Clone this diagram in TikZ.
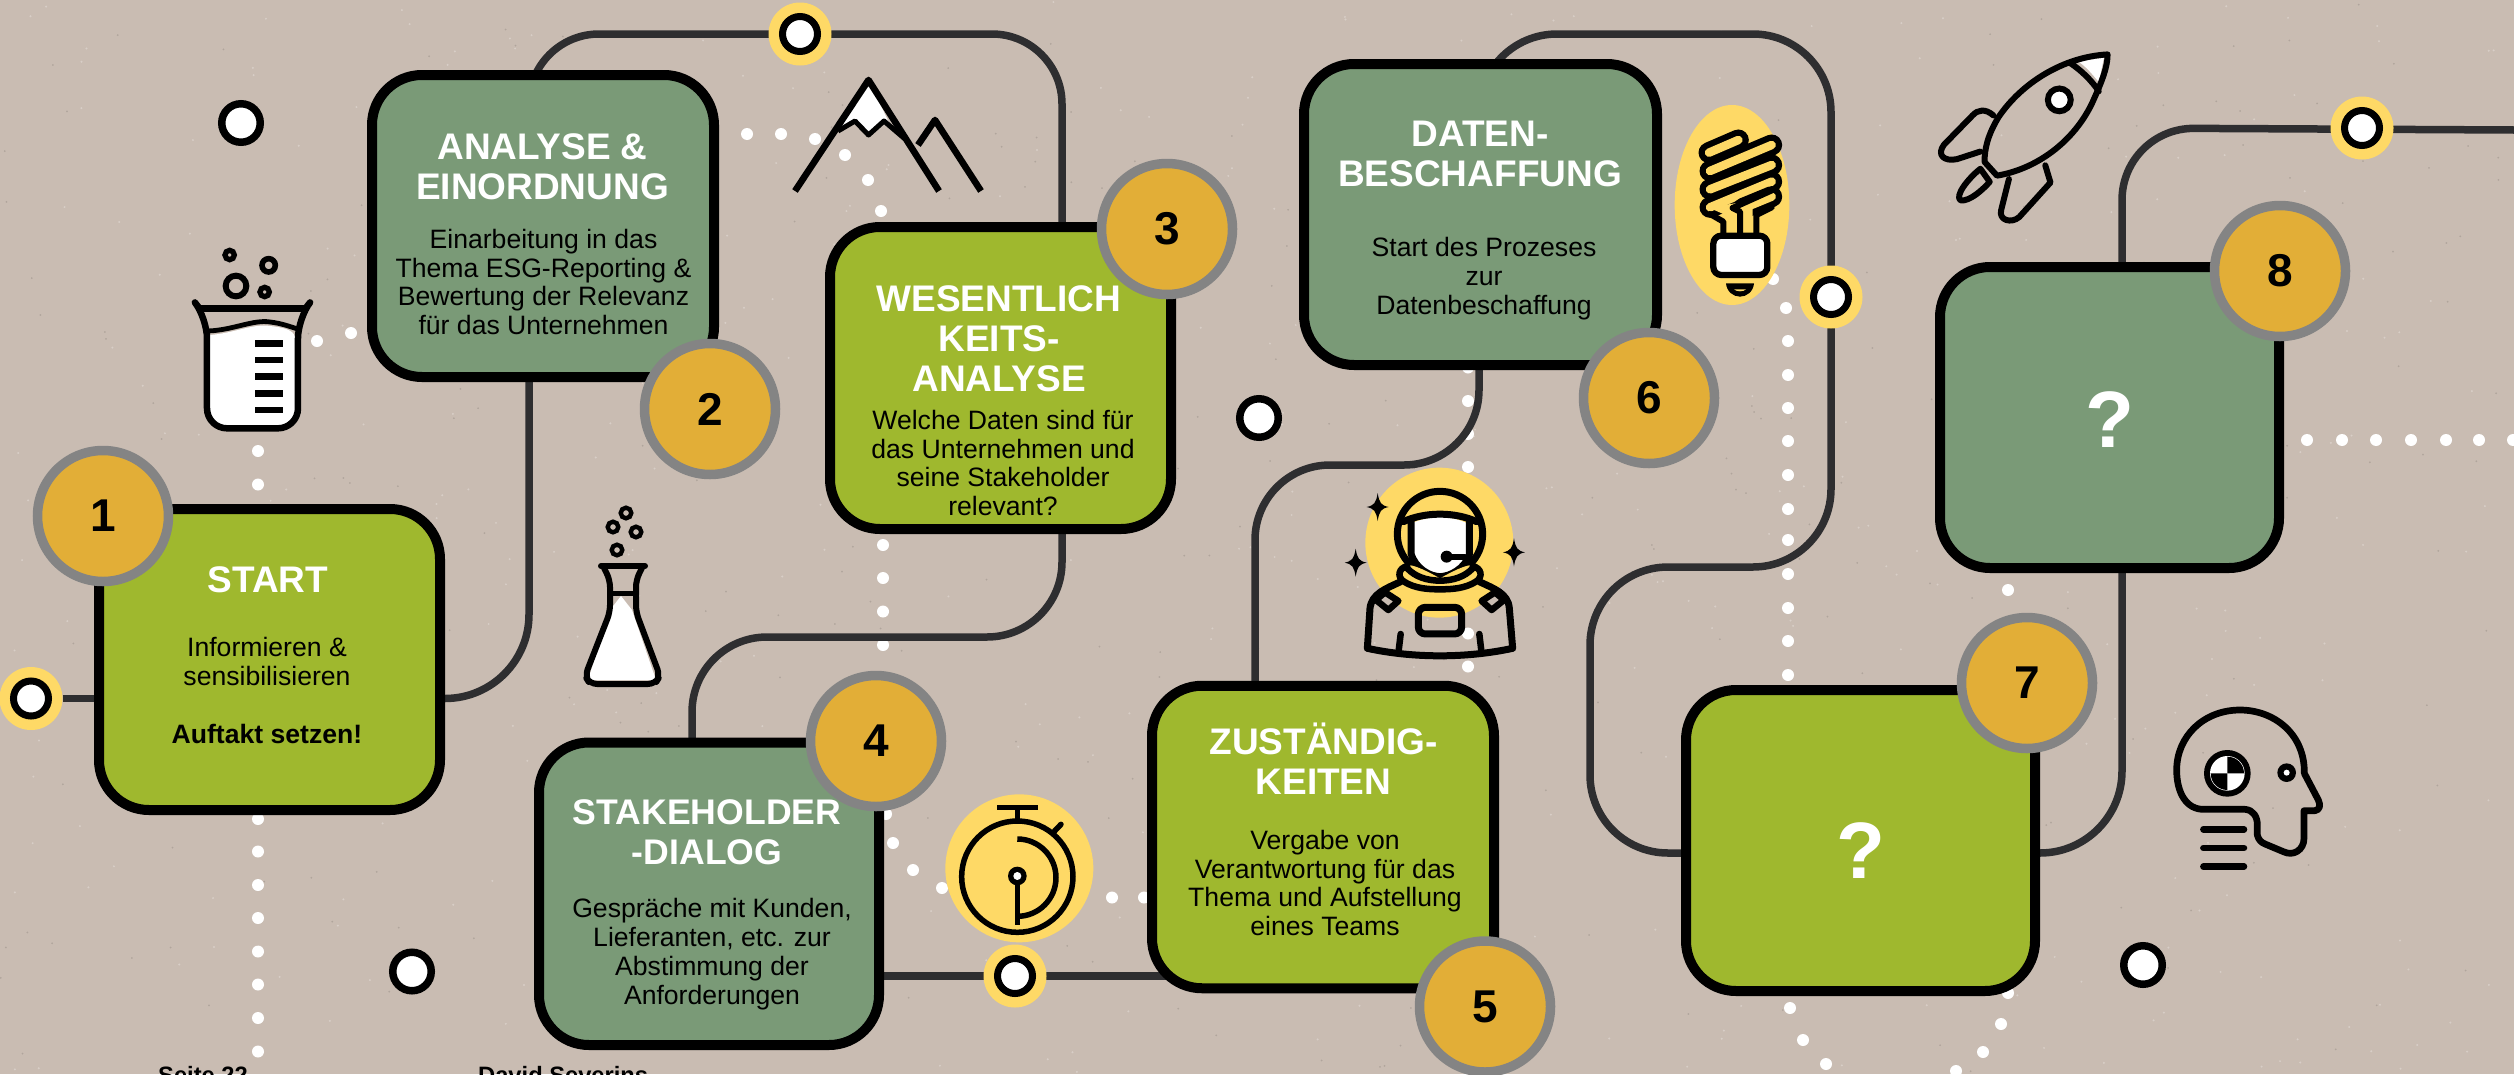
\documentclass[tikz,border=0pt]{standalone}
\usepackage{fontspec}
\setmainfont{Liberation Sans}
\usetikzlibrary{calc}
\definecolor{paper}{RGB}{201,188,178}
\definecolor{lime}{RGB}{159,184,46}
\definecolor{sage}{RGB}{122,154,119}
\definecolor{badgefill}{RGB}{226,174,55}
\definecolor{badgering}{RGB}{132,132,132}
\definecolor{sun}{RGB}{254,217,102}
\definecolor{wire}{RGB}{46,46,48}
\pgfdeclarelayer{paperlayer}
\pgfdeclarelayer{wirelayer}
\pgfsetlayers{paperlayer,wirelayer,main}
\tikzset{
  card/.style={rectangle,draw=black,line width=10pt,rounded corners=50pt,outer sep=0pt,inner sep=0pt},
  limecard/.style={card,fill=lime},
  sagecard/.style={card,fill=sage},
  badge/.style={circle,draw=badgering,fill=badgefill,line width=9.5pt,minimum size=131pt,inner sep=0pt,outer sep=0pt,font=\fontsize{46}{46}\selectfont\bfseries},
  stop/.style={circle,draw=black,fill=white,line width=7.5pt,minimum size=38.5pt,inner sep=0pt,outer sep=0pt},
  halo/.style={circle,fill=sun,minimum size=63pt,inner sep=0pt,outer sep=0pt},
  haloring/.style={circle,draw=black,fill=white,line width=7pt,minimum size=35pt,inner sep=0pt,outer sep=0pt},
  conn/.style={draw=wire,line width=7.5pt},
  whitedot/.style={fill=white},
  headtext/.style={align=center,text=white,font=\fontsize{37}{40}\selectfont\bfseries,inner sep=0pt},
  bodytext/.style={align=center,text=black,font=\fontsize{26.6}{28.9}\selectfont,inner sep=0pt},
  asktext/.style={text=white,font=\fontsize{80}{80}\selectfont\bfseries,inner sep=0pt},
  foot/.style={anchor=base west,inner sep=0pt,font=\fontsize{23.7}{26}\selectfont\bfseries},
  ink/.style={draw=black,line cap=round,line join=round},
}
\begin{document}
\begin{tikzpicture}[x=1pt,y=-1pt]
\useasboundingbox (0,0) rectangle (2514,1074);
\begin{pgfonlayer}{paperlayer}
\fill[paper] (0,0) rectangle (2514,1074);
\pgfmathsetseed{11}
\foreach \i in {1,...,500}{\fill[white,opacity=.28] ({rnd*2514},{rnd*1074}) circle (1.1);}
\foreach \i in {1,...,350}{\fill[black,opacity=.12] ({rnd*2514},{rnd*1074}) circle (1.0);}
\end{pgfonlayer}

% cards
\node[limecard,minimum width=341pt,minimum height=301pt] (b1) at (269.5,659.5) {};
\node[sagecard,minimum width=342pt,minimum height=302pt] (b2) at (543,226) {};
\node[limecard,minimum width=341pt,minimum height=302pt] (b3) at (1000.5,378) {};
\node[sagecard,minimum width=340pt,minimum height=302.5pt] (b4) at (709,893.75) {};
\node[limecard,minimum width=342pt,minimum height=302.5pt] (b5) at (1323,837) {};
\node[sagecard,minimum width=353pt,minimum height=301pt] (b6) at (1480.5,214.5) {};
\node[limecard,minimum width=349pt,minimum height=301pt] (b7) at (1860.5,840.5) {};
\node[sagecard,minimum width=339pt,minimum height=301pt] (b8) at (2109.5,417.5) {};

% route stops
\node[halo] (n0) at (31,698.5) {};   \node[haloring] (n0r) at (n0) {};
\node[halo] (n1) at (800,34) {};   \node[haloring] (n1r) at (n1) {};
\node[halo] (n2) at (1015,976) {}; \node[haloring] (n2r) at (n2) {};
\node[halo] (n3) at (1831,297) {}; \node[haloring] (n3r) at (n3) {};
\node[halo] (n4) at (2362,128) {}; \node[haloring] (n4r) at (n4) {};
\node[stop] (s1) at (241,123) {};
\node[stop] (s2) at (412,971.5) {};
\node[stop] (s3) at (1259,418) {};
\node[stop] (s4) at (2143,965) {};

\coordinate (c1) at (529,698.5);
\coordinate (c2) at (529,34);
\coordinate (c3) at (1062,34);
\coordinate (c4) at (1062,637);
\coordinate (c5) at (692,637);
\coordinate (c6) at (1255,465);
\coordinate (c7) at (1479,465);
\coordinate (c8) at (1479,34);
\coordinate (c9) at (1831,34);
\coordinate (c10) at (1831,567);
\coordinate (c11) at (1590,567);
\coordinate (c12) at (1590,853);
\coordinate (c13) at (2122,853);
\coordinate (c14) at (2122,128);
\coordinate (c15) at (2514,130);

\begin{pgfonlayer}{wirelayer}
% dotted trails
\foreach \p in {(258,451),(258,484.5),(258,819),(258,851.5),(258,885),(258,918),(258,951.5),(258,984.5),(258,1018),(258,1051.5),
 (317,341),(351,333),(747,134),(781,134),(815,139),(845,155),(868,180),(881,211),
 (883,545),(883,578),(883,611.5),(883,645),(886,814),(893,843),(913,870),(942,888),(1112,897.5),(1144,897.5),
 (1468,367.5),(1468,401),(1468,434),(1468,467),(1468,633.5),(1468,666.5),
 (1773,279),(1786,308),(1788,341),(1788,375),(1788,408),(1788,441),(1788,475),(1788,509),(1788,540),(1788,574),(1788,608),(1788,641),(1788,675),
 (1790,1008),(1803,1040),(1826,1064),
 (2008,590),(2008,993),(2001,1024),(1983,1052),(1956,1071),
 (2307,440),(2342,440),(2376,440),(2411,440),(2446,440),(2479,440),(2513,440)}
 {\fill[whitedot] \p circle (6);}
% connectors
\draw[conn] (n0) -- (n0 -| b1.center);
\draw[conn,rounded corners=84pt] (n0 -| b1.center) -- (c1) -- (c1 |- b2.center);
\draw[conn,rounded corners=70pt] (c2 |- b2.center) -- (c2) -- (c3) -- (c3 |- b3.center);
\draw[conn,rounded corners=75pt] (c4 |- b3.center) -- (c4) -- (c5) -- (c5 |- b4.center);
\draw[conn] (n2 -| b4.center) -- (n2 -| b5.center);
\draw[conn,rounded corners=75pt] (c6 |- b5.center) -- (c6) -- (c7) -- (c7 |- b6.center);
\draw[conn,rounded corners=78pt] (c8 |- b6.center) -- (c8) -- (c9) -- (c10) -- (c11) -- (c12) -- (c12 -| b7.center);
\draw[conn,rounded corners=82pt] (c13 -| b7.center) -- (c13) -- (c13 |- b8.center);
\draw[conn,rounded corners=72pt] (c14 |- b8.center) -- (c14) -- (c15);
\end{pgfonlayer}

% badges
\node[badge] (d1) at (103,516) {1};
\node[badge] (d2) at (710,409) {2};
\node[badge] (d3) at (1167,229) {3};
\node[badge] (d4) at (876,741) {4};
\node[badge] (d5) at (1485,1006.5) {5};
\node[badge] (d6) at (1649,398) {6};
\node[badge] (d7) at (2027,683) {7};
\node[badge] (d8) at (2280,271) {8};

% texts
\node[headtext] (t1) at (268,579.5) {START};
\node[bodytext] (e1) at (267,690.5) {Informieren \&\\sensibilisieren\\[28.9pt]\textbf{Auftakt setzen!}};
\node[headtext] (t2) at (542.5,166.5) {ANALYSE \&\\EINORDNUNG};
\node[bodytext] (e2) at (543.5,282) {Einarbeitung in das\\Thema ESG-Reporting \&\\Bewertung der Relevanz\\für das Unternehmen};
\node[headtext] (t3) at (999,339) {WESENTLICH\\KEITS-\\ANALYSE};
\node[bodytext] (e3) at (1003,463) {Welche Daten sind für\\das Unternehmen und\\seine Stakeholder\\relevant?};
\node[headtext,font=\fontsize{35.6}{40}\selectfont\bfseries] (t4) at (707,832.5) {STAKEHOLDER\\-DIALOG};
\node[bodytext] (e4) at (712,954) {Gespräche mit Kunden,\\Lieferanten, etc. zur\\Abstimmung der\\Anforderungen};
\node[headtext] (t5) at (1323.5,759) {ZUSTÄNDIG-\\KEITEN};
\node[bodytext] (e5) at (1325,883) {Vergabe von\\Verantwortung für das\\Thema und Aufstellung\\eines Teams};
\node[headtext] (t6) at (1480,153.5) {DATEN-\\BESCHAFFUNG};
\node[bodytext] (e6) at (1484,279) {Start des Prozeses\\zur\\Datenbeschaffung};
\node[asktext] (t7) at (1861,851) {?};
\node[asktext] (t8) at (2110,420) {?};
\node[foot] (f1) at (158,1083) {Seite 22};
\node[foot] (f2) at (478,1083) {David Severins};

% beaker
\begin{scope}[shift={(180,230)},x=.3333pt,y=-.3333pt]
\fill[white] (90,315) .. controls (160,310) and (220,280) .. (270,288) .. controls (310,292) and (340,300) .. (345,320) -- (345,585) -- (90,585) -- cycle;
\draw[ink,line width=6.5pt] (58,235) -- (377,235);
\draw[ink,line width=6.5pt,rounded corners=20pt] (62,240) -- (81,265) -- (81,595) -- (354,595) -- (354,265) -- (373,240);
\draw[ink,line width=4.8pt] (85,303) .. controls (160,300) and (220,268) .. (270,276) .. controls (305,280) and (330,290) .. (350,296);
\foreach \yy in {341,390,440,490,540}{\fill[black] (225,\yy-10) rectangle (308,\yy+10);}
\draw[black,line width=5.3pt] (149,75) circle (14);
\draw[black,line width=5.6pt] (266,106) circle (20);
\draw[black,line width=6pt] (168,168) circle (31);
\draw[black,line width=5.3pt] (254,186) circle (14);
\end{scope}

% flask
\draw[black,line width=4.4pt] (626,513) circle (5.3);
\draw[black,line width=4.4pt] (613,527) circle (5.3);
\draw[black,line width=4.4pt] (636,532) circle (5.3);
\draw[black,line width=4.4pt] (617,550) circle (5.3);
\fill[white] (621,596) -- (632,610) -- (656,680) -- (588,680) -- (610,610) -- cycle;
\draw[ink,line width=6pt] (601,566) -- (645,566);
\draw[ink,line width=6pt,rounded corners=7pt] (604,568) -- (610,580) -- (610,612) -- (585,676) -- (590,684) -- (655,684) -- (660,676) -- (636,612) -- (636,580) -- (642,568);
\draw[black,line width=5pt] (610,593) -- (636,593);

% mountains
\fill[white] (868.5,80) -- (893,131) -- (884,122) -- (868.5,135) -- (855,122) -- (839,131) -- cycle;
\draw[ink,line width=6.6pt,line cap=butt,miter limit=10] (795,191) -- (868.5,80) -- (939,191);
\draw[ink,line width=5pt,line cap=butt] (838,131) -- (855,121) -- (868.5,135) -- (884,121) -- (905,139);
\draw[ink,line width=6.6pt,line cap=butt] (918,145) -- (935,120) -- (981,191);

% stopwatch
\begin{scope}[shift={(930,780)},x=.3333pt,y=-.3333pt]
\fill[sun] (268,265) ellipse (222 and 222);
\draw[black,line width=5.5pt] (262,290) circle (167);
\draw[black,line width=5.5pt] (202,83) -- (323,83);
\draw[black,line width=5.5pt] (262,83) -- (262,125);
\draw[ink,line width=5.5pt] (372,155) -- (393,133);
\draw[black,line width=5.5pt] (262,177) arc[start angle=-90,end angle=90,radius=116];
\fill[black] (262,288) circle (28);
\fill[white] (262,288) circle (12);
\draw[black,line width=5.5pt] (262,300) -- (262,436);
\end{scope}

% astronaut
\begin{scope}[shift={(1330,460)},x=.3333pt,y=-.3333pt]
\fill[sun] (328,248) ellipse (222 and 225);
\foreach \cx/\cy/\ss in {143/141/1,77/308/1,552/277/1}{
 \fill[black] (\cx,\cy-42) .. controls (\cx+5,\cy-12) and (\cx+10,\cy-5) .. (\cx+33,\cy) .. controls (\cx+10,\cy+5) and (\cx+5,\cy+12) .. (\cx,\cy+42) .. controls (\cx-5,\cy+12) and (\cx-10,\cy+5) .. (\cx-33,\cy) .. controls (\cx-10,\cy-5) and (\cx-5,\cy-12) .. (\cx,\cy-42) -- cycle;}
\fill[white] (245,190) .. controls (300,165) and (360,165) .. (412,190) -- (412,290) .. controls (395,330) and (350,345) .. (330,345) .. controls (300,345) and (255,325) .. (245,280) -- cycle;
\draw[ink,line width=7pt] (330,222) circle (128);
\draw[ink,line width=7pt] (220,185) .. controls (285,155) and (375,155) .. (440,185);
\draw[ink,line width=7pt] (243,180) -- (243,280) .. controls (255,325) and (300,350) .. (330,350) .. controls (360,350) and (405,325) .. (418,285) -- (418,180);
\fill[black] (350,290) circle (18);
\draw[ink,line width=6pt] (350,290) -- (405,290);
\fill[sun] (210,340) .. controls (210,300) and (250,310) .. (330,355) .. controls (410,310) and (450,300) .. (450,340) .. controls (440,375) and (380,385) .. (330,385) .. controls (280,385) and (220,375) .. (210,340) -- cycle;
\draw[ink,line width=6.5pt] (232,318) .. controls (205,325) and (200,350) .. (222,365) .. controls (255,385) and (290,388) .. (330,388) .. controls (370,388) and (405,385) .. (438,365) .. controls (460,350) and (455,325) .. (428,318);
\draw[ink,line width=6.5pt] (232,325) .. controls (255,350) and (290,362) .. (330,362) .. controls (370,362) and (405,350) .. (428,325);
\draw[ink,line width=7pt] (210,366) .. controls (170,385) and (125,400) .. (120,445) -- (112,565) .. controls (250,595) and (410,595) .. (548,565) -- (538,445) .. controls (535,400) and (490,385) .. (450,366);
\draw[ink,line width=6.5pt] (138,420) -- (165,397) -- (205,423) -- (175,450) -- cycle;
\draw[ink,line width=6.5pt] (522,420) -- (495,397) -- (455,423) -- (485,450) -- cycle;
\draw[ink,line width=7pt,rounded corners=7pt] (265,442) rectangle (395,522);
\draw[ink,line width=6.5pt] (212,522) -- (206,572);
\draw[ink,line width=6.5pt] (448,522) -- (454,572);
\end{scope}

% bulb
\begin{scope}[shift={(1660,90)},x=.3333pt,y=-.3333pt]
\fill[sun] (216,345) ellipse (172 and 300);
\foreach \ax/\ay/\bx/\by in {150/352/335/275, 150/298/335/225, 150/243/335/165, 147/188/235/150}{
 \draw[black,line width=21pt,line cap=round] (\ax,\ay) -- (\bx,\by);
 \draw[sun,line width=8.5pt,line cap=round] (\ax,\ay) -- (\bx,\by);}
\draw[black,line width=21pt,line cap=round] (250,355) -- (335,320);
\draw[sun,line width=8.5pt,line cap=round] (250,355) -- (335,320);
\fill[sun] (196,432) -- (196,375) -- (145,352) -- (225,340) -- (278,355) -- (278,432) -- cycle;
\draw[ink,line width=6pt] (190,432) -- (190,395) -- (150,372);
\draw[ink,line width=6pt] (240,432) -- (240,365) -- (218,354);
\draw[ink,line width=6pt] (289,432) -- (289,375) -- (335,352);
\draw[ink,line width=6pt] (218,354) -- (338,300);
\fill[white,rounded corners=6pt] (160,437) -- (322,437) -- (322,555) -- (160,555) -- cycle;
\draw[black,line width=6.3pt,rounded corners=8pt,line join=round] (160,437) -- (322,437) -- (322,555) -- (160,555) -- cycle;
\fill[black] (198,580) -- (282,580) .. controls (280,605) and (260,620) .. (240,620) .. controls (220,620) and (200,605) .. (198,580) -- cycle;
\fill[sun] (222,598) -- (258,598) .. controls (250,606) and (230,606) .. (222,598) -- cycle;
\end{scope}

% rocket
\begin{scope}[shift={(1700,0)},x=.5192pt,y=-.3444pt]
\fill[white] (728,178) -- (778,168) -- (768,238) .. controls (755,215) and (745,195) .. (728,178) -- cycle;
\draw[ink,line width=6pt] (785,158) .. controls (700,165) and (620,240) .. (575,340) .. controls (555,390) and (548,430) .. (548,470) -- (572,510) .. controls (650,490) and (720,410) .. (755,300) .. controls (770,250) and (785,200) .. (785,158) -- cycle;
\draw[ink,line width=6pt] (713,183) .. controls (735,205) and (755,235) .. (768,265);
\draw[black,fill=white,line width=6pt] (692,290) ellipse (22 and 33);
\draw[ink,line width=6pt] (565,335) .. controls (550,315) and (535,318) .. (525,335) -- (470,420) .. controls (455,450) and (470,470) .. (495,462) -- (540,440);
\draw[ink,line width=6pt] (665,480) -- (675,530) -- (615,630) .. controls (600,650) and (575,640) .. (580,610) -- (595,520);
\draw[ink,line width=6pt] (540,490) .. controls (515,520) and (490,570) .. (502,582) .. controls (520,585) and (545,550) .. (558,528) -- cycle;
\end{scope}

% head
\begin{scope}[shift={(2150,690)},x=.3333pt,y=-.3333pt]
\draw[ink,line width=6.7pt] (463,250) .. controls (465,130) and (370,60) .. (270,60) .. controls (160,60) and (80,140) .. (80,240) .. controls (80,310) and (110,358) .. (160,358) -- (285,358) .. controls (310,360) and (322,380) .. (322,405) -- (322,435) .. controls (325,450) and (335,458) .. (345,462) -- (400,485) .. controls (430,500) and (462,480) .. (462,445) -- (462,362) -- (495,362) .. controls (510,360) and (512,345) .. (505,330) -- (463,250);
\fill[black] (232,250) circle (70);
\fill[white] (232,250) circle (52);
\fill[black] (232,250) -- (232,200) arc[start angle=-90,end angle=0,radius=50] -- cycle;
\fill[black] (232,250) -- (232,300) arc[start angle=90,end angle=180,radius=50] -- cycle;
\fill[black] (410,248) circle (28);
\fill[white] (410,248) circle (9);
\foreach \yy in {418,474,530}{\draw[ink,line width=6.5pt] (160,\yy) -- (282,\yy);}
\end{scope}
\end{tikzpicture}
\end{document}
